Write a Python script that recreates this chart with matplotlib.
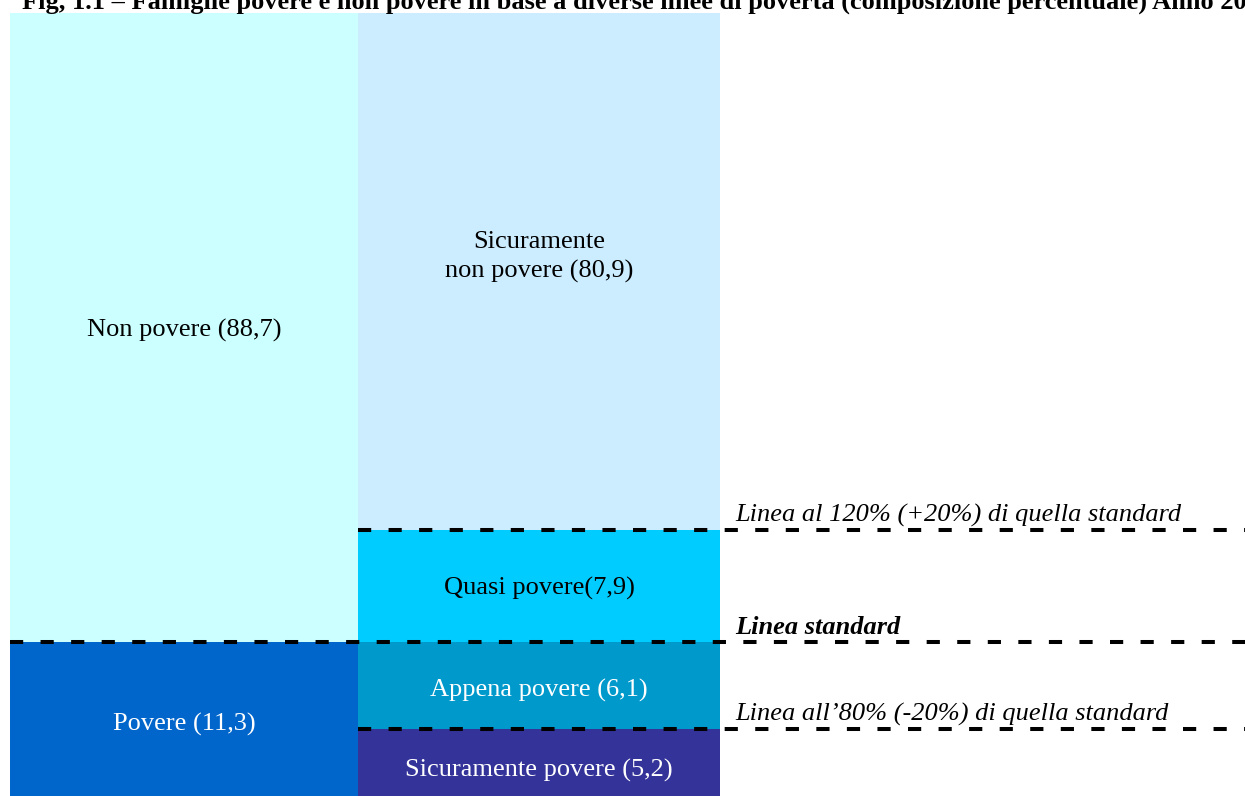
import matplotlib
matplotlib.use('Agg')
import matplotlib.pyplot as plt
from matplotlib.patches import Rectangle

plt.rcParams['font.family'] = ['Liberation Serif', 'DejaVu Serif']
plt.rcParams['lines.scale_dashes'] = False

# ---------------------------------------------------------------------------
# Data (percent composition)
# ---------------------------------------------------------------------------

title = ('Fig, 1.1 \u2013 Famiglie povere e non povere in base a diverse linee '
         'di povert\u00e0 (composizione percentuale) Anno 2007')

left_labels = ['Non povere', 'Povere']
left_values = [88.7, 11.3]

right_labels = ['Sicuramente\nnon povere', 'Quasi povere', 'Appena povere',
                'Sicuramente povere']
right_values = [80.9, 7.9, 6.1, 5.2]

line_labels = ['Linea al 120% (+20%) di quella standard',
               'Linea standard',
               'Linea all\u201980% (-20%) di quella standard']

# ---------------------------------------------------------------------------
# Layout (schematic, not proportional) in pixel coordinates
# ---------------------------------------------------------------------------

W, H = 1245, 796
TOP, BOTTOM = 13, 796
left_x = (10, 358)
right_x = (358, 720)
left_bounds = [TOP, 642, BOTTOM]
right_bounds = [TOP, 530, 642, 729, BOTTOM]

left_colors = ['#CCFFFF', '#0066CC']
right_colors = ['#CCECFF', '#00CCFF', '#0099CC', '#333399']
left_txt = ['black', 'white']
right_txt = ['black', 'black', 'white', 'white']
# label vertical centres (pixels)
left_ty = [330, 724]
right_ty = [257, 588, 690, 770]
right_fmt = ['{} ({})', '{}({})', '{} ({})', '{} ({})']

fig = plt.figure(figsize=(W / 100, H / 100), dpi=100)
ax = fig.add_axes([0, 0, 1, 1])
ax.set_xlim(0, W)
ax.set_ylim(H, 0)
ax.axis('off')

FS = 19


def fmt(v):
    return f'{v:.1f}'.replace('.', ',')


for i, (lab, v) in enumerate(zip(left_labels, left_values)):
    y0, y1 = left_bounds[i], left_bounds[i + 1]
    ax.add_patch(Rectangle((left_x[0], y0), left_x[1] - left_x[0], y1 - y0,
                           facecolor=left_colors[i], edgecolor='none'))
    ax.text(sum(left_x) / 2, left_ty[i], f'{lab} ({fmt(v)})', ha='center',
            va='center', fontsize=FS, color=left_txt[i])

for i, (lab, v) in enumerate(zip(right_labels, right_values)):
    y0, y1 = right_bounds[i], right_bounds[i + 1]
    ax.add_patch(Rectangle((right_x[0], y0), right_x[1] - right_x[0], y1 - y0,
                           facecolor=right_colors[i], edgecolor='none'))
    ax.text(sum(right_x) / 2, right_ty[i], right_fmt[i].format(lab, fmt(v)),
            ha='center', va='center', fontsize=FS, color=right_txt[i],
            linespacing=1.4)

# poverty lines
line_y = [530, 642, 729]
line_x0 = [358, 10, 358]
line_style = [('italic', 'normal'), ('italic', 'bold'), ('italic', 'normal')]
for y, x0, lab, (st, wt) in zip(line_y, line_x0, line_labels, line_style):
    ax.plot([x0, W], [y, y], color='black', lw=2.9, dashes=(9.5, 12.5),
            solid_capstyle='butt', dash_capstyle='butt')
    ax.text(735, y - 8, lab, ha='left', va='baseline', fontsize=FS,
            style=st, weight=wt)

ax.text(22, 9, title, ha='left', va='baseline', fontsize=FS,
        weight='bold')

fig.savefig('out.png', dpi=100)
